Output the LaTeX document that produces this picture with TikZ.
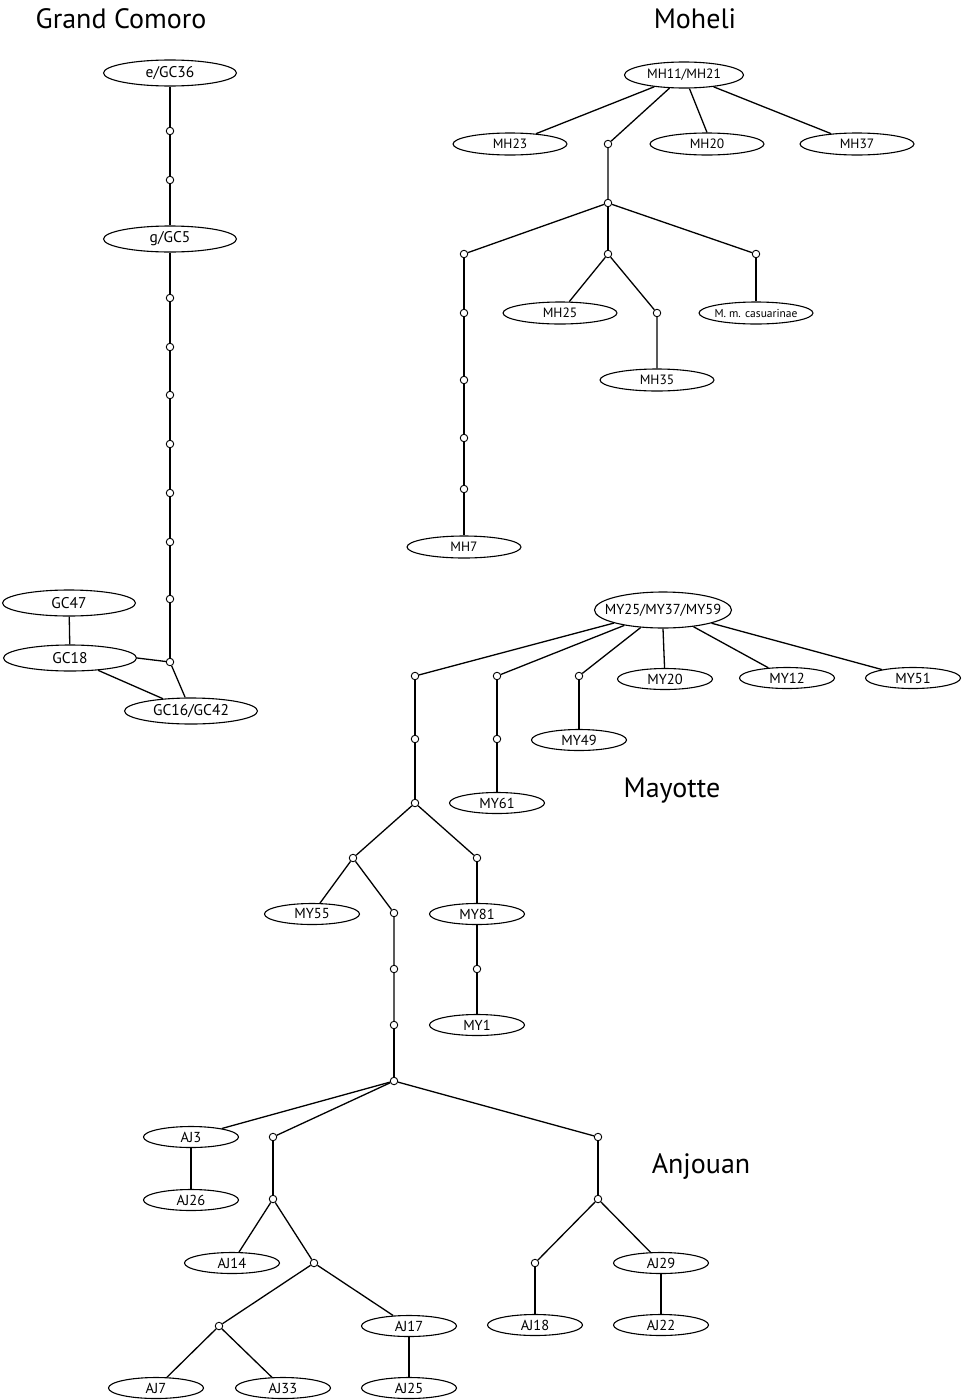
\documentclass[tikz,border=0pt]{standalone}
\usepackage{fontspec}
\setmainfont{PT Sans}
\usetikzlibrary{shapes.geometric}
\newcommand\zb[1]{\makebox[0pt]{#1}}
\begin{document}
\begin{tikzpicture}[x=1pt,y=-1pt,
  hap/.style={draw, ellipse, line width=1.1pt, fill=white, inner sep=0pt},
  gc/.style={hap, minimum width=133, minimum height=26, font=\fontsize{15.5}{15.5}\selectfont},
  mh/.style={hap, minimum width=114, minimum height=22, font=\fontsize{13.5}{13.5}\selectfont},
  mhhub/.style={hap, minimum width=119, minimum height=26, font=\fontsize{13.5}{13.5}\selectfont},
  my/.style={hap, minimum width=95, minimum height=21, font=\fontsize{14.5}{14.5}\selectfont},
  myhub/.style={hap, minimum width=137, minimum height=36, font=\fontsize{14.5}{14.5}\selectfont},
  mv/.style={circle, draw, fill=white, minimum size=7.5, inner sep=0pt, line width=0.9pt},
  edge/.style={line width=1.3pt},
  ttl/.style={anchor=base, font=\fontsize{28}{28}\selectfont}]
\useasboundingbox (0,0) rectangle (966,1400);
\fill[white] (0,0) rectangle (966,1400);

% Titles
\node[ttl] (tGC) at (121,28) {Grand Comoro};
\node[ttl] (tMH) at (695,28) {Moheli};
\node[ttl] (tMY) at (672,797) {Mayotte};
\node[ttl] (tAJ) at (701,1173) {Anjouan};

% ---------------- Grand Comoro
\node[gc] (GC36) at (170,73) {\zb{e/GC36}};
\node[mv] (g1) at (170,131) {};
\node[mv] (g2) at (170,180) {};
\node[gc] (GC5) at (170,239) {\zb{g/GC5}};
\node[mv] (g3) at (170,298) {};
\node[mv] (g4) at (170,347) {};
\node[mv] (g5) at (170,395) {};
\node[mv] (g6) at (170,444) {};
\node[mv] (g7) at (170,493) {};
\node[mv] (g8) at (170,542) {};
\node[mv] (g9) at (170,599) {};
\node[mv] (gj) at (170,662) {};
\node[gc] (GC47) at (69,603) {\zb{GC47}};
\node[gc] (GC18) at (70,658) {\zb{GC18}};
\node[gc] (GC1642) at (191,711) {\zb{GC16/GC42}};
\draw[edge] (GC36) -- (g1) -- (g2) -- (GC5) -- (g3) -- (g4) -- (g5) -- (g6) -- (g7) -- (g8) -- (g9) -- (gj);
\draw[edge] (GC47) -- (GC18);
\draw[edge] (GC18.east) -- (gj);
\draw[edge] (GC18) -- (GC1642);
\draw[edge] (gj) -- (GC1642);

% ---------------- Moheli
\node[mhhub] (MH11) at (684,75) {\zb{MH11/MH21}};
\node[mh] (MH23) at (510,144) {\zb{MH23}};
\node[mv] (m1) at (608,144) {};
\node[mh] (MH20) at (707,144) {\zb{MH20}};
\node[mh] (MH37) at (857,144) {\zb{MH37}};
\node[mv] (m2) at (608,203) {};
\node[mv] (m3) at (464,254) {};
\node[mv] (m4) at (608,254) {};
\node[mv] (m5) at (756,254) {};
\node[mh] (MH25) at (560,313) {\zb{MH25}};
\node[mv] (m10) at (657,313) {};
\node[mh, font=\fontsize{11.5}{11.5}\selectfont] (MMC) at (756,313) {\zb{M. m. casuarinae}};
\node[mh] (MH35) at (657,380) {\zb{MH35}};
\node[mv] (m6) at (464,313) {};
\node[mv] (m7) at (464,380) {};
\node[mv] (m8) at (464,438) {};
\node[mv] (m9) at (464,489) {};
\node[mh] (MH7) at (464,547) {\zb{MH7}};
\draw[edge] (MH11) -- (MH23);
\draw[edge] (MH11) -- (m1) -- (m2);
\draw[edge] (MH11) -- (MH20.north);
\draw[edge] (MH11) -- (MH37);
\draw[edge] (m2) -- (m3);
\draw[edge] (m2) -- (m4);
\draw[edge] (m2) -- (m5);
\draw[edge] (m3) -- (m6) -- (m7) -- (m8) -- (m9) -- (MH7);
\draw[edge] (m4) -- (MH25);
\draw[edge] (m4) -- (m10) -- (MH35);
\draw[edge] (m5) -- (MMC);

% ---------------- Mayotte
\node[myhub] (MYH) at (663,610) {\zb{MY25/MY37/MY59}};
\node[mv] (y1) at (415,676) {};
\node[mv] (y2) at (497,676) {};
\node[mv] (y3) at (579,676) {};
\node[my] (MY20) at (665,679) {\zb{MY20}};
\node[my] (MY12) at (787,678) {\zb{MY12}};
\node[my] (MY51) at (913,678) {\zb{MY51}};
\node[mv] (y4) at (415,739) {};
\node[mv] (y6) at (497,739) {};
\node[my] (MY49) at (579,740) {\zb{MY49}};
\node[mv] (y5) at (415,803) {};
\node[my] (MY61) at (497,803) {\zb{MY61}};
\node[mv] (y7) at (353,858) {};
\node[mv] (y8) at (477,858) {};
\node[my] (MY55) at (312,914) {\zb{MY55}};
\node[mv] (y9) at (394,913) {};
\node[my] (MY81) at (477,914) {\zb{MY81}};
\node[mv] (y10) at (394,969) {};
\node[mv] (y11) at (394,1025) {};
\node[mv] (y12) at (477,969) {};
\node[my] (MY1) at (477,1025) {\zb{MY1}};
\draw[edge] (MYH) -- (y1);
\draw[edge] (MYH) -- (y2);
\draw[edge] (MYH) -- (y3);
\draw[edge] (MYH.south) -- (MY20);
\draw[edge] (MYH) -- (MY12);
\draw[edge] (MYH) -- (MY51);
\draw[edge] (y1) -- (y4) -- (y5);
\draw[edge] (y2) -- (y6) -- (MY61);
\draw[edge] (y3) -- (MY49);
\draw[edge] (y5) -- (y7);
\draw[edge] (y5) -- (y8);
\draw[edge] (y7) -- (MY55);
\draw[edge] (y7) -- (y9) -- (y10) -- (y11);
\draw[edge] (y8) -- (MY81) -- (y12) -- (MY1);

% ---------------- Anjouan
\node[mv] (a0) at (394,1081) {};
\node[my] (AJ3) at (191,1137) {\zb{AJ3}};
\node[mv] (a1) at (273,1137) {};
\node[mv] (a2) at (598,1137) {};
\node[my] (AJ26) at (191,1200) {\zb{AJ26}};
\node[mv] (a3) at (273,1199) {};
\node[mv] (a6) at (598,1199) {};
\node[my] (AJ14) at (232,1263) {\zb{AJ14}};
\node[mv] (a4) at (314,1263) {};
\node[mv] (a7) at (535,1263) {};
\node[my] (AJ29) at (661,1263) {\zb{AJ29}};
\node[mv] (a5) at (219,1326) {};
\node[my] (AJ17) at (409,1326) {\zb{AJ17}};
\node[my] (AJ18) at (535,1325) {\zb{AJ18}};
\node[my] (AJ22) at (661,1325) {\zb{AJ22}};
\node[my] (AJ7) at (156,1388) {\zb{AJ7}};
\node[my] (AJ33) at (283,1388) {\zb{AJ33}};
\node[my] (AJ25) at (409,1388) {\zb{AJ25}};
\draw[edge] (y11) -- (a0);
\draw[edge] (a0) -- (AJ3);
\draw[edge] (a0) -- (a1);
\draw[edge] (a0) -- (a2);
\draw[edge] (AJ3) -- (AJ26);
\draw[edge] (a1) -- (a3);
\draw[edge] (a3) -- (AJ14);
\draw[edge] (a3) -- (a4);
\draw[edge] (a4) -- (a5);
\draw[edge] (a4) -- (AJ17);
\draw[edge] (a5) -- (AJ7);
\draw[edge] (a5) -- (AJ33);
\draw[edge] (AJ17) -- (AJ25);
\draw[edge] (a2) -- (a6);
\draw[edge] (a6) -- (a7);
\draw[edge] (a6) -- (AJ29);
\draw[edge] (a7) -- (AJ18);
\draw[edge] (AJ29) -- (AJ22);
\end{tikzpicture}
\end{document}
